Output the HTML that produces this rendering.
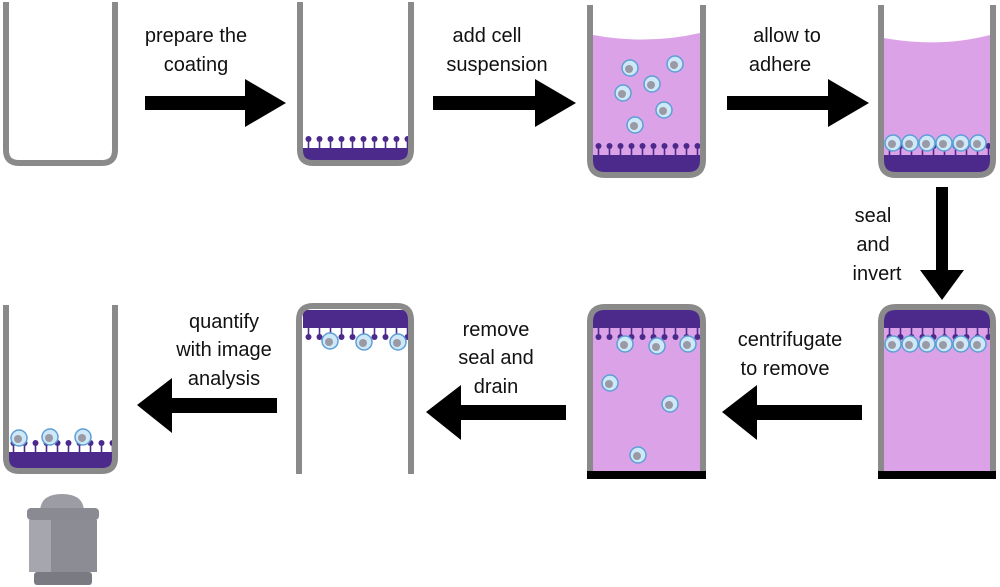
<!DOCTYPE html>
<html><head><meta charset="utf-8"><style>
html,body{margin:0;padding:0;background:#fff;}
svg{display:block;}
text{font-family:"Liberation Sans",sans-serif;font-size:20px;fill:#111;text-anchor:middle;}
</style></head><body>
<svg width="1000" height="587" viewBox="0 0 1000 587" xmlns="http://www.w3.org/2000/svg">
<defs>
<pattern id="stalkUp" width="11" height="14" patternUnits="userSpaceOnUse">
<line x1="5.5" y1="14" x2="5.5" y2="5" stroke="#4b2a8c" stroke-width="1.6"/><circle cx="5.5" cy="5" r="3" fill="#4b2a8c"/></pattern>
<pattern id="stalkDn" width="11" height="14" patternUnits="userSpaceOnUse">
<line x1="5.5" y1="0" x2="5.5" y2="9" stroke="#4b2a8c" stroke-width="1.6"/><circle cx="5.5" cy="9" r="3" fill="#4b2a8c"/></pattern>
<g id="cell"><circle r="8" fill="#cfe8f8" stroke="#5c9fd6" stroke-width="1.5"/><circle r="4" cx="-1" cy="1" fill="#9a9aa6"/></g>
</defs>

<!-- Well 1 -->
<path d="M6,2 V150 Q6,163 19,163 H102 Q115,163 115,150 V2" fill="none" stroke="#8a8a8a" stroke-width="6"/>

<!-- Well 2 -->
<rect x="303" y="148" width="105" height="14" fill="#4b2a8c"/>
<rect x="0" y="0" width="105" height="14" fill="url(#stalkUp)" transform="translate(303,134)"/>
<path d="M300,2 V150 Q300,163 313,163 H398 Q411,163 411,150 V2" fill="none" stroke="#8a8a8a" stroke-width="6"/>

<!-- Well 3 -->
<path d="M593,35 Q648,45 700,33 V172 H593 Z" fill="#dca2e8"/>
<rect x="593" y="155" width="107" height="18" fill="#4b2a8c"/>
<rect x="0" y="0" width="107" height="14" fill="url(#stalkUp)" transform="translate(593,141)"/>
<use href="#cell" x="630" y="68"/><use href="#cell" x="675" y="64"/><use href="#cell" x="652" y="84"/>
<use href="#cell" x="623" y="93"/><use href="#cell" x="664" y="110"/><use href="#cell" x="635" y="125"/>
<path d="M590,5 V160 Q590,175 605,175 H688 Q703,175 703,160 V5" fill="none" stroke="#8a8a8a" stroke-width="6"/>

<!-- Well 4 -->
<path d="M884,38 Q940,48 990,35 V172 H884 Z" fill="#dca2e8"/>
<rect x="884" y="155" width="106" height="18" fill="#4b2a8c"/>
<rect x="0" y="0" width="106" height="14" fill="url(#stalkUp)" transform="translate(884,141)"/>
<use href="#cell" x="893" y="143"/><use href="#cell" x="910" y="143"/><use href="#cell" x="927" y="143"/><use href="#cell" x="944" y="143"/><use href="#cell" x="961" y="143"/><use href="#cell" x="978" y="143"/>
<path d="M881,5 V160 Q881,175 896,175 H978 Q993,175 993,160 V5" fill="none" stroke="#8a8a8a" stroke-width="6"/>

<!-- Well 5 (inverted, sealed) -->
<rect x="884" y="310" width="106" height="162" fill="#dca2e8"/>
<rect x="884" y="310" width="106" height="18" fill="#4b2a8c"/>
<rect x="0" y="0" width="106" height="14" fill="url(#stalkDn)" transform="translate(884,328)"/>
<use href="#cell" x="893" y="344"/><use href="#cell" x="910" y="344"/><use href="#cell" x="927" y="344"/><use href="#cell" x="944" y="344"/><use href="#cell" x="961" y="344"/><use href="#cell" x="978" y="344"/>
<path d="M881,472 V322 Q881,307 896,307 H978 Q993,307 993,322 V472" fill="none" stroke="#8a8a8a" stroke-width="6"/>
<rect x="878" y="471" width="118" height="8" fill="#000"/>

<!-- Well 6 -->
<rect x="593" y="310" width="107" height="162" fill="#dca2e8"/>
<rect x="593" y="310" width="107" height="18" fill="#4b2a8c"/>
<rect x="0" y="0" width="107" height="14" fill="url(#stalkDn)" transform="translate(593,328)"/>
<use href="#cell" x="625" y="344"/><use href="#cell" x="657" y="346"/><use href="#cell" x="688" y="344"/>
<use href="#cell" x="610" y="383"/><use href="#cell" x="670" y="404"/><use href="#cell" x="638" y="455"/>
<path d="M590,472 V322 Q590,307 605,307 H688 Q703,307 703,322 V472" fill="none" stroke="#8a8a8a" stroke-width="6"/>
<rect x="587" y="471" width="119" height="8" fill="#000"/>

<!-- Well 7 (inverted, open) -->
<rect x="303" y="310" width="105" height="18" fill="#4b2a8c"/>
<rect x="0" y="0" width="105" height="14" fill="url(#stalkDn)" transform="translate(303,328)"/>
<use href="#cell" x="330" y="341"/><use href="#cell" x="364" y="342"/><use href="#cell" x="398" y="342"/>
<path d="M299,474 V320 Q299,306 313,306 H397 Q411,306 411,320 V474" fill="none" stroke="#8a8a8a" stroke-width="6"/>

<!-- Well 8 -->
<rect x="8" y="452" width="104" height="16" fill="#4b2a8c"/>
<rect x="0" y="0" width="104" height="14" fill="url(#stalkUp)" transform="translate(8,438)"/>
<use href="#cell" x="19" y="438"/><use href="#cell" x="50" y="437"/><use href="#cell" x="83" y="437"/>
<path d="M6,305 V458 Q6,471 19,471 H102 Q115,471 115,458 V305" fill="none" stroke="#8a8a8a" stroke-width="6"/>

<!-- Objective -->
<path d="M40,512 Q40,494 62,494 Q84,494 84,512 Z" fill="#9c9ca4"/>
<rect x="27" y="508" width="72" height="12" rx="4" fill="#8a8a92"/>
<rect x="29" y="520" width="68" height="52" fill="#8c8c94"/>
<rect x="29" y="520" width="22" height="52" fill="#a6a6ae"/>
<rect x="34" y="572" width="58" height="13" rx="3" fill="#7a7a82"/>

<!-- Arrows right -->
<path d="M145,96 H245 V79 L286,103 L245,127 V110 H145 Z" fill="#000"/>
<path d="M433,96 H535 V79 L576,103 L535,127 V110 H433 Z" fill="#000"/>
<path d="M727,96 H828 V79 L869,103 L828,127 V110 H727 Z" fill="#000"/>
<!-- Arrow down -->
<path d="M936,187 H948 V270 H964 L942,300 L920,270 H936 Z" fill="#000"/>
<!-- Arrows left -->
<path d="M862,405 H757 V385 L722,412 L757,440 V420 H862 Z" fill="#000"/>
<path d="M566,405 H461 V385 L426,412 L461,440 V420 H566 Z" fill="#000"/>
<path d="M277,398 H172 V378 L137,405 L172,433 V413 H277 Z" fill="#000"/>

<!-- Labels -->
<text x="196" y="42">prepare the</text><text x="196" y="71">coating</text>
<text x="487" y="42">add cell</text><text x="497" y="71">suspension</text>
<text x="787" y="42">allow to</text><text x="780" y="71">adhere</text>
<text x="873" y="222">seal</text><text x="873" y="251">and</text><text x="877" y="280">invert</text>
<text x="790" y="346">centrifugate</text><text x="785" y="375">to remove</text>
<text x="496" y="336">remove</text><text x="496" y="364">seal and</text><text x="496" y="393">drain</text>
<text x="224" y="328">quantify</text><text x="224" y="356">with image</text><text x="224" y="385">analysis</text>
</svg>
</body></html>
